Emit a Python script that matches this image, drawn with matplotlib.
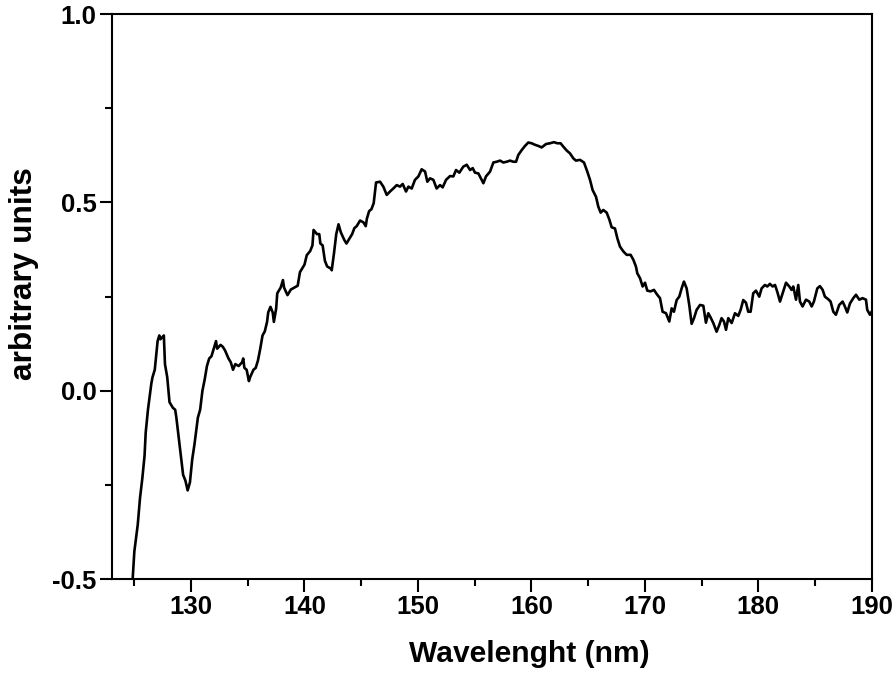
import matplotlib
matplotlib.use("Agg")
import matplotlib.pyplot as plt
from matplotlib.ticker import MultipleLocator

plt.rcParams["font.family"] = ["Liberation Sans", "DejaVu Sans"]
plt.rcParams["font.weight"] = "bold"
plt.rcParams["axes.unicode_minus"] = False

# spectrum
wavelength = [
    124.85, 125.0, 125.3, 125.5, 125.7, 125.9, 126.0, 126.2, 126.5, 126.6,
    126.8, 127.05, 127.2, 127.3, 127.6, 127.7, 127.9, 128.1, 128.4, 128.6,
    128.7, 128.9, 129.1, 129.3, 129.5, 129.7, 129.9, 130.1, 130.3, 130.6,
    130.8, 131.0, 131.2, 131.4, 131.6, 131.8, 132.0, 132.2, 132.3, 132.6,
    132.8, 133.0, 133.3, 133.5, 133.7, 133.9, 134.2, 134.5, 134.6, 134.7,
    134.9, 135.1, 135.2, 135.5, 135.7, 135.9, 136.1, 136.3, 136.5, 136.7,
    136.8, 137.0, 137.2, 137.3, 137.5, 137.6, 137.9, 138.1, 138.2, 138.5,
    138.8, 139.1, 139.4, 139.6, 139.8, 140.0, 140.2, 140.5, 140.7, 140.8,
    141.1, 141.3, 141.4, 141.6, 141.8, 142.0, 142.3, 142.4, 142.6, 142.8,
    143.0, 143.2, 143.5, 143.7, 144.0, 144.2, 144.4, 144.6, 144.9, 145.2,
    145.4, 145.5, 145.7, 145.9, 146.1, 146.31, 146.66, 146.95, 147.25, 147.54,
    147.83, 148.13, 148.42, 148.66, 148.95, 149.16, 149.45, 149.74, 150.04, 150.33,
    150.63, 150.83, 151.07, 151.36, 151.65, 151.95, 152.18, 152.48, 152.83, 153.12,
    153.36, 153.65, 154.0, 154.3, 154.6, 154.83, 155.03, 155.33, 155.62, 155.77,
    156.0, 156.36, 156.65, 156.94, 157.24, 157.53, 157.82, 158.12, 158.41, 158.65,
    158.85, 159.15, 159.44, 159.73, 160.03, 160.32, 160.61, 160.91, 161.29, 161.64,
    161.99, 162.29, 162.58, 162.82, 163.11, 163.41, 163.7, 163.93, 164.29, 164.64,
    164.93, 165.17, 165.4, 165.7, 165.9, 166.11, 166.34, 166.64, 166.87, 167.08,
    167.37, 167.58, 167.81, 168.11, 168.4, 168.75, 168.99, 169.22, 169.34, 169.58,
    169.81, 170.02, 170.22, 170.52, 170.81, 171.05, 171.34, 171.57, 171.87, 172.16,
    172.37, 172.57, 172.81, 173.04, 173.25, 173.45, 173.69, 173.92, 174.13, 174.34,
    174.57, 174.87, 175.16, 175.39, 175.6, 175.8, 176.04, 176.33, 176.57, 176.77,
    176.98, 177.16, 177.36, 177.66, 177.95, 178.24, 178.45, 178.68, 178.92, 179.12,
    179.33, 179.56, 179.8, 180.09, 180.3, 180.59, 180.8, 181.03, 181.27, 181.48,
    181.68, 181.92, 182.15, 182.45, 182.74, 182.94, 183.09, 183.33, 183.53, 183.68,
    183.91, 184.21, 184.5, 184.71, 184.91, 185.21, 185.44, 185.68, 185.88, 186.18,
    186.38, 186.62, 186.85, 187.14, 187.44, 187.64, 187.85, 188.09, 188.38, 188.62,
    188.91, 189.2, 189.5, 189.61, 189.85, 190.0,
]
signal = [
    -0.5, -0.426, -0.355, -0.284, -0.233, -0.172, -0.111, -0.05, 0.02, 0.036,
    0.056, 0.132, 0.147, 0.137, 0.147, 0.071, 0.036, -0.03, -0.045, -0.05,
    -0.07, -0.12, -0.172, -0.223, -0.238, -0.264, -0.243, -0.182, -0.142, -0.071,
    -0.05, 0.0, 0.03, 0.066, 0.086, 0.092, 0.112, 0.132, 0.112, 0.122,
    0.117, 0.107, 0.086, 0.076, 0.056, 0.071, 0.066, 0.076, 0.086, 0.061,
    0.056, 0.026, 0.036, 0.056, 0.061, 0.081, 0.112, 0.147, 0.158, 0.183,
    0.208, 0.223, 0.208, 0.183, 0.218, 0.259, 0.274, 0.294, 0.274, 0.254,
    0.269, 0.274, 0.279, 0.315, 0.325, 0.335, 0.36, 0.371, 0.386, 0.427,
    0.416, 0.416, 0.391, 0.386, 0.345, 0.33, 0.325, 0.32, 0.365, 0.416,
    0.442, 0.421, 0.401, 0.391, 0.406, 0.416, 0.432, 0.437, 0.452, 0.447,
    0.437, 0.457, 0.477, 0.482, 0.498, 0.553, 0.555, 0.542, 0.52, 0.529,
    0.537, 0.546, 0.542, 0.549, 0.529, 0.542, 0.537, 0.56, 0.569, 0.588,
    0.582, 0.555, 0.564, 0.56, 0.537, 0.546, 0.54, 0.56, 0.57, 0.569,
    0.586, 0.579, 0.595, 0.6, 0.586, 0.591, 0.579, 0.577, 0.56, 0.551,
    0.569, 0.582, 0.606, 0.608, 0.611, 0.606, 0.608, 0.611, 0.608, 0.608,
    0.626, 0.639, 0.65, 0.659, 0.657, 0.653, 0.65, 0.646, 0.655, 0.657,
    0.66, 0.657, 0.657, 0.648, 0.638, 0.63, 0.617, 0.611, 0.613, 0.606,
    0.582, 0.56, 0.533, 0.515, 0.489, 0.473, 0.48, 0.473, 0.455, 0.434,
    0.431, 0.405, 0.383, 0.37, 0.361, 0.361, 0.348, 0.33, 0.312, 0.299,
    0.277, 0.287, 0.266, 0.264, 0.268, 0.257, 0.246, 0.21, 0.206, 0.184,
    0.219, 0.21, 0.241, 0.25, 0.272, 0.29, 0.272, 0.228, 0.178, 0.193,
    0.215, 0.228, 0.226, 0.181, 0.206, 0.195, 0.18, 0.157, 0.175, 0.193,
    0.184, 0.162, 0.193, 0.18, 0.206, 0.199, 0.215, 0.241, 0.234, 0.21,
    0.21, 0.259, 0.266, 0.25, 0.272, 0.281, 0.277, 0.284, 0.277, 0.281,
    0.263, 0.237, 0.259, 0.287, 0.277, 0.268, 0.277, 0.242, 0.281, 0.237,
    0.224, 0.242, 0.237, 0.224, 0.237, 0.272, 0.278, 0.268, 0.25, 0.243,
    0.237, 0.21, 0.202, 0.228, 0.237, 0.224, 0.208, 0.232, 0.246, 0.255,
    0.242, 0.246, 0.242, 0.215, 0.202, 0.21,
]

fig = plt.figure(figsize=(8.94, 6.74), dpi=100)
ax = fig.add_axes([0.1249, 0.1405, 0.975 - 0.1249, 0.9792 - 0.1405])

ax.plot(wavelength, signal, color="black", linewidth=1.9)

ax.set_xlim(123, 190)
ax.set_ylim(-0.5, 1.0)
ax.xaxis.set_major_locator(MultipleLocator(10))
ax.xaxis.set_minor_locator(MultipleLocator(5))
ax.yaxis.set_major_locator(MultipleLocator(0.5))
ax.yaxis.set_minor_locator(MultipleLocator(0.25))
ax.tick_params(which="major", direction="out", length=9, width=1.5, labelsize=18.5)
ax.tick_params(axis="x", which="major", pad=2)
ax.tick_params(axis="y", which="major", pad=2)
ax.tick_params(which="minor", direction="out", length=5, width=1.5)
for s in ax.spines.values():
    s.set_linewidth(1.5)

ax.set_xlabel("Wavelenght (nm)", fontsize=21.6, fontweight="bold")
ax.set_ylabel("arbitrary units", fontsize=22.8, fontweight="bold")
ax.xaxis.set_label_coords(0.55, -0.108)
ax.yaxis.set_label_coords(-0.095, 0.54)

fig.savefig("out.png", dpi=100)
